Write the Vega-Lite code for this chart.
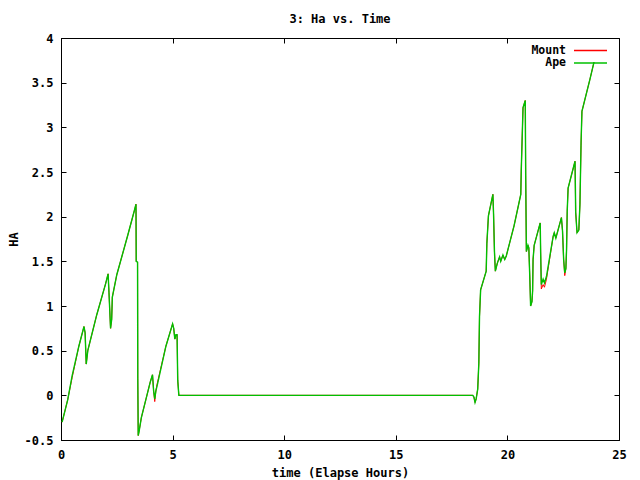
{
  "$schema": "https://vega.github.io/schema/vega-lite/v6.json",
  "width": 558,
  "height": 402,
  "autosize": "none",
  "padding": {"left": 61, "top": 38, "right": 21, "bottom": 40},
  "background": "white",
  "title": {"text": "3: Ha vs. Time", "font": "DejaVu Sans Mono", "fontSize": 12, "fontWeight": "bold", "color": "black", "offset": 6, "anchor": "middle"},
  "config": {
    "view": {"stroke": "black", "strokeWidth": 1},
    "axis": {"labelFont": "DejaVu Sans Mono", "labelFontSize": 12, "labelFontWeight": "bold", "labelColor": "black", "titleFont": "DejaVu Sans Mono", "titleFontSize": 12, "titleFontWeight": "bold", "titleColor": "black", "grid": false, "domainColor": "black", "tickColor": "black", "tickSize": -5, "labelFlush": false, "labelOverlap": false}
  },
  "datasets": {
    "ha": [
      {"t": 0.05, "ha": -0.30, "series": "Mount"}, {"t": 0.3, "ha": -0.05, "series": "Mount"}, {"t": 0.5, "ha": 0.20, "series": "Mount"}, {"t": 0.8, "ha": 0.55, "series": "Mount"}, {"t": 1.03, "ha": 0.77, "series": "Mount"}, {"t": 1.08, "ha": 0.70, "series": "Mount"}, {"t": 1.13, "ha": 0.35, "series": "Mount"}, {"t": 1.2, "ha": 0.50, "series": "Mount"}, {"t": 1.6, "ha": 0.90, "series": "Mount"}, {"t": 2.0, "ha": 1.25, "series": "Mount"}, {"t": 2.11, "ha": 1.36, "series": "Mount"}, {"t": 2.15, "ha": 1.15, "series": "Mount"}, {"t": 2.22, "ha": 0.75, "series": "Mount"}, {"t": 2.27, "ha": 0.85, "series": "Mount"}, {"t": 2.3, "ha": 1.10, "series": "Mount"}, {"t": 2.5, "ha": 1.35, "series": "Mount"}, {"t": 3.0, "ha": 1.80, "series": "Mount"}, {"t": 3.3, "ha": 2.08, "series": "Mount"}, {"t": 3.36, "ha": 2.14, "series": "Mount"}, {"t": 3.37, "ha": 1.50, "series": "Mount"}, {"t": 3.43, "ha": 1.49, "series": "Mount"}, {"t": 3.44, "ha": 0.19, "series": "Mount"}, {"t": 3.46, "ha": -0.45, "series": "Mount"}, {"t": 3.5, "ha": -0.40, "series": "Mount"}, {"t": 3.6, "ha": -0.25, "series": "Mount"}, {"t": 4.0, "ha": 0.15, "series": "Mount"}, {"t": 4.1, "ha": 0.23, "series": "Mount"}, {"t": 4.15, "ha": 0.05, "series": "Mount"}, {"t": 4.2, "ha": -0.07, "series": "Mount"}, {"t": 4.25, "ha": 0.05, "series": "Mount"}, {"t": 4.3, "ha": 0.12, "series": "Mount"}, {"t": 4.7, "ha": 0.55, "series": "Mount"}, {"t": 5.0, "ha": 0.80, "series": "Mount"}, {"t": 5.05, "ha": 0.75, "series": "Mount"}, {"t": 5.1, "ha": 0.63, "series": "Mount"}, {"t": 5.15, "ha": 0.68, "series": "Mount"}, {"t": 5.2, "ha": 0.68, "series": "Mount"}, {"t": 5.23, "ha": 0.17, "series": "Mount"}, {"t": 5.28, "ha": 0.0, "series": "Mount"}, {"t": 18.45, "ha": 0.0, "series": "Mount"}, {"t": 18.5, "ha": -0.02, "series": "Mount"}, {"t": 18.55, "ha": -0.08, "series": "Mount"}, {"t": 18.6, "ha": -0.04, "series": "Mount"}, {"t": 18.67, "ha": 0.07, "series": "Mount"}, {"t": 18.72, "ha": 0.36, "series": "Mount"}, {"t": 18.75, "ha": 0.88, "series": "Mount"}, {"t": 18.8, "ha": 1.18, "series": "Mount"}, {"t": 19.05, "ha": 1.39, "series": "Mount"}, {"t": 19.08, "ha": 1.70, "series": "Mount"}, {"t": 19.15, "ha": 2.01, "series": "Mount"}, {"t": 19.35, "ha": 2.25, "series": "Mount"}, {"t": 19.38, "ha": 2.03, "series": "Mount"}, {"t": 19.42, "ha": 1.61, "series": "Mount"}, {"t": 19.46, "ha": 1.39, "series": "Mount"}, {"t": 19.55, "ha": 1.48, "series": "Mount"}, {"t": 19.65, "ha": 1.55, "series": "Mount"}, {"t": 19.7, "ha": 1.50, "series": "Mount"}, {"t": 19.8, "ha": 1.57, "series": "Mount"}, {"t": 19.88, "ha": 1.52, "series": "Mount"}, {"t": 19.95, "ha": 1.56, "series": "Mount"}, {"t": 20.3, "ha": 1.90, "series": "Mount"}, {"t": 20.6, "ha": 2.25, "series": "Mount"}, {"t": 20.62, "ha": 2.51, "series": "Mount"}, {"t": 20.7, "ha": 3.22, "series": "Mount"}, {"t": 20.8, "ha": 3.30, "series": "Mount"}, {"t": 20.82, "ha": 2.46, "series": "Mount"}, {"t": 20.85, "ha": 1.61, "series": "Mount"}, {"t": 20.92, "ha": 1.68, "series": "Mount"}, {"t": 20.96, "ha": 1.65, "series": "Mount"}, {"t": 21.0, "ha": 1.35, "series": "Mount"}, {"t": 21.04, "ha": 1.00, "series": "Mount"}, {"t": 21.1, "ha": 1.05, "series": "Mount"}, {"t": 21.13, "ha": 1.17, "series": "Mount"}, {"t": 21.15, "ha": 1.52, "series": "Mount"}, {"t": 21.2, "ha": 1.68, "series": "Mount"}, {"t": 21.47, "ha": 1.93, "series": "Mount"}, {"t": 21.49, "ha": 1.60, "series": "Mount"}, {"t": 21.52, "ha": 1.19, "series": "Mount"}, {"t": 21.6, "ha": 1.24, "series": "Mount"}, {"t": 21.66, "ha": 1.21, "series": "Mount"}, {"t": 21.75, "ha": 1.30, "series": "Mount"}, {"t": 22.05, "ha": 1.78, "series": "Mount"}, {"t": 22.1, "ha": 1.82, "series": "Mount"}, {"t": 22.17, "ha": 1.76, "series": "Mount"}, {"t": 22.42, "ha": 1.99, "series": "Mount"}, {"t": 22.47, "ha": 1.84, "series": "Mount"}, {"t": 22.52, "ha": 1.52, "series": "Mount"}, {"t": 22.57, "ha": 1.34, "series": "Mount"}, {"t": 22.62, "ha": 1.42, "series": "Mount"}, {"t": 22.65, "ha": 1.63, "series": "Mount"}, {"t": 22.68, "ha": 2.06, "series": "Mount"}, {"t": 22.72, "ha": 2.32, "series": "Mount"}, {"t": 23.03, "ha": 2.62, "series": "Mount"}, {"t": 23.06, "ha": 2.05, "series": "Mount"}, {"t": 23.12, "ha": 1.82, "series": "Mount"}, {"t": 23.2, "ha": 1.85, "series": "Mount"}, {"t": 23.25, "ha": 2.14, "series": "Mount"}, {"t": 23.3, "ha": 2.80, "series": "Mount"}, {"t": 23.34, "ha": 3.18, "series": "Mount"}, {"t": 23.7, "ha": 3.54, "series": "Mount"}, {"t": 23.88, "ha": 3.73, "series": "Mount"},
      {"t": 0.05, "ha": -0.30, "series": "Ape"}, {"t": 0.3, "ha": -0.05, "series": "Ape"}, {"t": 0.5, "ha": 0.22, "series": "Ape"}, {"t": 0.8, "ha": 0.55, "series": "Ape"}, {"t": 1.03, "ha": 0.77, "series": "Ape"}, {"t": 1.08, "ha": 0.70, "series": "Ape"}, {"t": 1.13, "ha": 0.35, "series": "Ape"}, {"t": 1.2, "ha": 0.50, "series": "Ape"}, {"t": 1.6, "ha": 0.90, "series": "Ape"}, {"t": 2.0, "ha": 1.25, "series": "Ape"}, {"t": 2.11, "ha": 1.36, "series": "Ape"}, {"t": 2.15, "ha": 1.15, "series": "Ape"}, {"t": 2.22, "ha": 0.75, "series": "Ape"}, {"t": 2.27, "ha": 0.85, "series": "Ape"}, {"t": 2.3, "ha": 1.10, "series": "Ape"}, {"t": 2.5, "ha": 1.35, "series": "Ape"}, {"t": 3.0, "ha": 1.80, "series": "Ape"}, {"t": 3.3, "ha": 2.08, "series": "Ape"}, {"t": 3.36, "ha": 2.14, "series": "Ape"}, {"t": 3.37, "ha": 1.50, "series": "Ape"}, {"t": 3.43, "ha": 1.49, "series": "Ape"}, {"t": 3.44, "ha": 0.19, "series": "Ape"}, {"t": 3.46, "ha": -0.45, "series": "Ape"}, {"t": 3.5, "ha": -0.40, "series": "Ape"}, {"t": 3.6, "ha": -0.25, "series": "Ape"}, {"t": 4.0, "ha": 0.15, "series": "Ape"}, {"t": 4.1, "ha": 0.23, "series": "Ape"}, {"t": 4.15, "ha": 0.05, "series": "Ape"}, {"t": 4.2, "ha": -0.04, "series": "Ape"}, {"t": 4.25, "ha": 0.05, "series": "Ape"}, {"t": 4.3, "ha": 0.10, "series": "Ape"}, {"t": 4.7, "ha": 0.55, "series": "Ape"}, {"t": 5.0, "ha": 0.80, "series": "Ape"}, {"t": 5.05, "ha": 0.75, "series": "Ape"}, {"t": 5.1, "ha": 0.63, "series": "Ape"}, {"t": 5.15, "ha": 0.68, "series": "Ape"}, {"t": 5.2, "ha": 0.68, "series": "Ape"}, {"t": 5.23, "ha": 0.17, "series": "Ape"}, {"t": 5.28, "ha": 0.0, "series": "Ape"}, {"t": 18.45, "ha": 0.0, "series": "Ape"}, {"t": 18.5, "ha": -0.02, "series": "Ape"}, {"t": 18.55, "ha": -0.08, "series": "Ape"}, {"t": 18.6, "ha": -0.04, "series": "Ape"}, {"t": 18.67, "ha": 0.07, "series": "Ape"}, {"t": 18.72, "ha": 0.36, "series": "Ape"}, {"t": 18.75, "ha": 0.88, "series": "Ape"}, {"t": 18.8, "ha": 1.18, "series": "Ape"}, {"t": 19.05, "ha": 1.39, "series": "Ape"}, {"t": 19.08, "ha": 1.70, "series": "Ape"}, {"t": 19.15, "ha": 2.01, "series": "Ape"}, {"t": 19.35, "ha": 2.25, "series": "Ape"}, {"t": 19.38, "ha": 2.03, "series": "Ape"}, {"t": 19.42, "ha": 1.61, "series": "Ape"}, {"t": 19.46, "ha": 1.39, "series": "Ape"}, {"t": 19.55, "ha": 1.48, "series": "Ape"}, {"t": 19.65, "ha": 1.55, "series": "Ape"}, {"t": 19.7, "ha": 1.50, "series": "Ape"}, {"t": 19.8, "ha": 1.57, "series": "Ape"}, {"t": 19.88, "ha": 1.52, "series": "Ape"}, {"t": 19.95, "ha": 1.56, "series": "Ape"}, {"t": 20.3, "ha": 1.90, "series": "Ape"}, {"t": 20.6, "ha": 2.25, "series": "Ape"}, {"t": 20.62, "ha": 2.51, "series": "Ape"}, {"t": 20.7, "ha": 3.22, "series": "Ape"}, {"t": 20.8, "ha": 3.30, "series": "Ape"}, {"t": 20.82, "ha": 2.46, "series": "Ape"}, {"t": 20.85, "ha": 1.61, "series": "Ape"}, {"t": 20.92, "ha": 1.68, "series": "Ape"}, {"t": 20.96, "ha": 1.65, "series": "Ape"}, {"t": 21.0, "ha": 1.35, "series": "Ape"}, {"t": 21.04, "ha": 1.00, "series": "Ape"}, {"t": 21.1, "ha": 1.05, "series": "Ape"}, {"t": 21.13, "ha": 1.17, "series": "Ape"}, {"t": 21.15, "ha": 1.52, "series": "Ape"}, {"t": 21.2, "ha": 1.68, "series": "Ape"}, {"t": 21.47, "ha": 1.93, "series": "Ape"}, {"t": 21.49, "ha": 1.60, "series": "Ape"}, {"t": 21.52, "ha": 1.24, "series": "Ape"}, {"t": 21.6, "ha": 1.30, "series": "Ape"}, {"t": 21.66, "ha": 1.26, "series": "Ape"}, {"t": 21.75, "ha": 1.33, "series": "Ape"}, {"t": 22.05, "ha": 1.78, "series": "Ape"}, {"t": 22.1, "ha": 1.82, "series": "Ape"}, {"t": 22.17, "ha": 1.76, "series": "Ape"}, {"t": 22.42, "ha": 1.99, "series": "Ape"}, {"t": 22.47, "ha": 1.84, "series": "Ape"}, {"t": 22.52, "ha": 1.52, "series": "Ape"}, {"t": 22.57, "ha": 1.37, "series": "Ape"}, {"t": 22.62, "ha": 1.42, "series": "Ape"}, {"t": 22.65, "ha": 1.63, "series": "Ape"}, {"t": 22.68, "ha": 2.06, "series": "Ape"}, {"t": 22.72, "ha": 2.32, "series": "Ape"}, {"t": 23.03, "ha": 2.62, "series": "Ape"}, {"t": 23.06, "ha": 2.05, "series": "Ape"}, {"t": 23.12, "ha": 1.82, "series": "Ape"}, {"t": 23.2, "ha": 1.85, "series": "Ape"}, {"t": 23.25, "ha": 2.14, "series": "Ape"}, {"t": 23.3, "ha": 2.83, "series": "Ape"}, {"t": 23.34, "ha": 3.18, "series": "Ape"}, {"t": 23.7, "ha": 3.54, "series": "Ape"}, {"t": 23.88, "ha": 3.73, "series": "Ape"}
    ]
  },
  "data": {"name": "ha"},
  "resolve": {"axis": {"x": "independent", "y": "independent"}},
  "layer": [
    {
      "transform": [{"filter": "datum.series === 'Mount'"}],
      "mark": {"type": "line", "strokeWidth": 1},
      "encoding": {
        "x": {"field": "t", "type": "quantitative", "scale": {"domain": [0, 25], "nice": false}, "axis": {"orient": "bottom", "values": [0, 5, 10, 15, 20, 25], "title": "time (Elapse Hours)", "labelPadding": 14, "titlePadding": 7}},
        "y": {"field": "ha", "type": "quantitative", "scale": {"domain": [-0.5, 4], "nice": false, "zero": false}, "axis": {"orient": "left", "values": [-0.5, 0, 0.5, 1, 1.5, 2, 2.5, 3, 3.5, 4], "labelExpr": "'' + datum.value", "title": "HA", "labelPadding": 13, "titlePadding": 4}},
        "color": {"field": "series", "type": "nominal", "scale": {"domain": ["Mount", "Ape"], "range": ["#ff0000", "#00c000"]}, "legend": {"title": null, "orient": "none", "legendX": 523, "legendY": 6, "symbolType": "M-3,0H3", "symbolSize": 121, "symbolStrokeWidth": 1.5, "symbolFillColor": "transparent", "symbolOpacity": 1, "labelFont": "DejaVu Sans Mono", "labelFontSize": 11.5, "labelFontWeight": "bold", "labelColor": "black", "labelAlign": "right", "labelOffset": -31, "rowPadding": 0.5}}
      }
    },
    {
      "transform": [{"filter": "datum.series === 'Ape'"}],
      "mark": {"type": "line", "strokeWidth": 1.4},
      "encoding": {
        "x": {"field": "t", "type": "quantitative", "axis": {"orient": "top", "values": [0, 5, 10, 15, 20, 25], "labels": false, "title": null, "domain": false}},
        "y": {"field": "ha", "type": "quantitative", "axis": {"orient": "right", "values": [-0.5, 0, 0.5, 1, 1.5, 2, 2.5, 3, 3.5, 4], "labels": false, "title": null, "domain": false}},
        "color": {"field": "series", "type": "nominal"}
      }
    }
  ]
}
